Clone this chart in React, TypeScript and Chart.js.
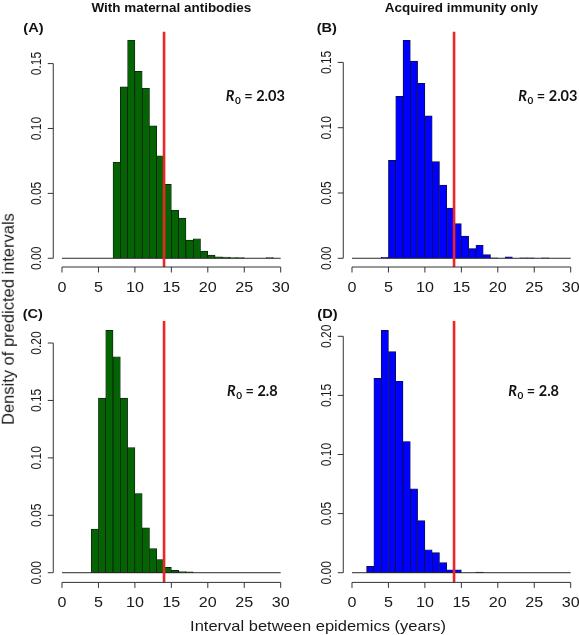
import React, { useEffect, useRef } from "react";
import { Chart, registerables } from "chart.js";

Chart.register(...registerables);

// ---------- data ----------
const binEdges = [0, 1, 2, 3, 4, 5, 6, 7, 8, 9, 10, 11, 12, 13, 14, 15, 16, 17, 18, 19, 20, 21, 22, 23, 24, 25, 26, 27, 28, 29, 30];

// (A) With maternal antibodies, R0 = 2.03
const maternalR203 = [0, 0, 0, 0, 0, 0, 0, 0.074, 0.132, 0.168, 0.144, 0.131, 0.102, 0.079, 0.057, 0.037, 0.031, 0.014, 0.015, 0.0055, 0.0025, 0.0012, 0.001, 0.0005, 0.0005, 0, 0, 0, 0.0005, 0];
// (B) Acquired immunity only, R0 = 2.03
const acquiredR203 = [0, 0, 0, 0, 0.0008, 0.075, 0.124, 0.167, 0.151, 0.134, 0.109, 0.074, 0.056, 0.0385, 0.0265, 0.017, 0.0075, 0.01, 0.0028, 0.0003, 0, 0.0012, 0, 0.0004, 0.0004, 0, 0.0004, 0, 0, 0];
// (C) With maternal antibodies, R0 = 2.8
const maternalR28 = [0, 0, 0, 0, 0.038, 0.152, 0.211, 0.188, 0.152, 0.109, 0.069, 0.039, 0.021, 0.0115, 0.0046, 0.002, 0.001, 0.0007, 0, 0, 0, 0, 0, 0, 0, 0, 0, 0, 0, 0];
// (D) Acquired immunity only, R0 = 2.8
const acquiredR28 = [0, 0, 0.0054, 0.1645, 0.205, 0.187, 0.162, 0.111, 0.071, 0.044, 0.0194, 0.017, 0.0085, 0.0025, 0.0025, 0, 0, 0.0005, 0, 0, 0, 0, 0, 0, 0, 0, 0, 0, 0, 0];

const xTickValues = [0, 5, 10, 15, 20, 25, 30];
const yTickValuesTop = [0, 0.05, 0.1, 0.15];
const yTickValuesBottom = [0, 0.05, 0.1, 0.15, 0.2];
const observedInterval = 14;

const columnTitles = ["With maternal antibodies", "Acquired immunity only"];
const panelLetters = ["(A)", "(B)", "(C)", "(D)"];
const r0Labels = ["2.03", "2.03", "2.8", "2.8"];
const xAxisTitle = "Interval between epidemics (years)";
const yAxisTitle = "Density of predicted intervals";

// ---------- styles / layout ----------
const GREEN = "#046404";
const BLUE = "#0000ff";
const RED = "rgb(236,38,38)";
const AXIS = "#333333";
const SANS = '"Liberation Sans", Arial, sans-serif';
const R0FONT = 'Lato, "Open Sans", sans-serif';

type Layout = {
  cl: number; ct: number; cw: number; ch: number;
  pl: number; pt: number; pr: number; pb: number;
  lx: number; ly: number; rx: number; ry: number;
};

const layouts: Layout[] = [
  { cl: 0, ct: 0, cw: 290, ch: 300, pl: 53.25, pt: 31.5, pr: 289.45, pb: 267, lx: 23.3, ly: 31.5, rx: 225.7, ry: 100.7 },
  { cl: 290, ct: 0, cw: 290, ch: 300, pl: 343.25, pt: 31.5, pr: 579.45, pb: 267, lx: 316.7, ly: 31.5, rx: 518.3, ry: 100.7 },
  { cl: 0, ct: 300, cw: 290, ch: 335, pl: 53.25, pt: 320.7, pr: 289.45, pb: 582.4, lx: 22.7, ly: 317.5, rx: 227, ry: 395.5 },
  { cl: 290, ct: 300, cw: 290, ch: 335, pl: 343.25, pt: 320.7, pr: 579.45, pb: 582.4, lx: 317.3, ly: 318, rx: 508.3, ry: 395.5 },
];

function stretchText(ctx: CanvasRenderingContext2D, text: string, x: number, y: number, sx: number, align: CanvasTextAlign) {
  ctx.save();
  ctx.translate(x, y);
  ctx.scale(sx, 1);
  ctx.textAlign = align;
  ctx.textBaseline = "alphabetic";
  ctx.fillText(text, 0, 0);
  ctx.restore();
}

type PanelProps = {
  values: number[];
  color: string;
  yTicks: number[];
  layout: Layout;
  letter: string;
  r0: string;
  title?: string;
};

function HistPanel({ values, color, yTicks, layout, letter, r0, title }: PanelProps) {
  const ref = useRef<HTMLCanvasElement>(null);

  useEffect(() => {
    const canvas = ref.current;
    if (!canvas) return;
    const L = layout;
    const centers = values.map((_, i) => (binEdges[i] + binEdges[i + 1]) / 2);
    const yMax = Math.max(...values);
    const yLo = -0.04 * yMax;
    const yHi = 1.04 * yMax;
    const xMin = binEdges[0];
    const xMax = binEdges[binEdges.length - 1];
    const xLo = xMin - 0.04 * (xMax - xMin);
    const xHi = xMax + 0.04 * (xMax - xMin);

    const decor = {
      id: "rDecor",
      afterDraw(chart: any) {
        const ctx: CanvasRenderingContext2D = chart.ctx;
        const xs = chart.scales.x;
        const ys = chart.scales.y;
        const area = chart.chartArea;
        ctx.save();
        ctx.strokeStyle = AXIS;
        ctx.lineWidth = 1;
        ctx.fillStyle = "#1a1a1a";

        // y axis (R style, spans ticks only)
        const ax = area.left;
        ctx.beginPath();
        ctx.moveTo(ax, ys.getPixelForValue(yTicks[0]));
        ctx.lineTo(ax, ys.getPixelForValue(yTicks[yTicks.length - 1]));
        yTicks.forEach((t) => {
          const py = ys.getPixelForValue(t);
          ctx.moveTo(ax, py);
          ctx.lineTo(ax - 5.5, py);
        });
        // x axis
        const ay = area.bottom;
        ctx.moveTo(xs.getPixelForValue(xTickValues[0]), ay);
        ctx.lineTo(xs.getPixelForValue(xTickValues[xTickValues.length - 1]), ay);
        xTickValues.forEach((t) => {
          const px = xs.getPixelForValue(t);
          ctx.moveTo(px, ay);
          ctx.lineTo(px, ay + 5.5);
        });
        ctx.stroke();

        // y tick labels, rotated
        ctx.font = `12px ${SANS}`;
        yTicks.forEach((t) => {
          const py = ys.getPixelForValue(t);
          ctx.save();
          ctx.translate(ax - 12.5, py);
          ctx.rotate(-Math.PI / 2);
          ctx.scale(1, 1.15);
          ctx.textAlign = "center";
          ctx.textBaseline = "alphabetic";
          ctx.fillText(t.toFixed(2), 0, 0);
          ctx.restore();
        });

        // x tick labels
        ctx.font = `14px ${SANS}`;
        xTickValues.forEach((t) => {
          stretchText(ctx, String(t), xs.getPixelForValue(t), ay + 24.6, 1.15, "center");
        });

        // panel letter
        ctx.fillStyle = "#111";
        ctx.font = `bold 13.5px ${SANS}`;
        stretchText(ctx, letter, L.lx - L.cl, L.ly - L.ct, 1.08, "left");

        // column title
        if (title) {
          ctx.font = `bold 12px ${SANS}`;
          stretchText(ctx, title, (area.left + area.right) / 2, 11.5 - L.ct, 1.12, "center");
        }

        // R0 annotation
        let x = L.rx - L.cl;
        const y = L.ry - L.ct;
        ctx.textAlign = "left";
        ctx.textBaseline = "alphabetic";
        ctx.font = `italic bold 14.5px ${R0FONT}`;
        ctx.fillText("R", x, y);
        x += ctx.measureText("R").width + 0.5;
        ctx.font = `bold 10px ${R0FONT}`;
        ctx.fillText("0", x, y + 3);
        x += ctx.measureText("0").width;
        ctx.font = `bold 14.5px ${R0FONT}`;
        ctx.fillText(" = " + r0, x, y);
        ctx.restore();
      },
    };

    const chart = new Chart(canvas, {
      type: "bar",
      data: {
        datasets: [
          {
            type: "line",
            data: [
              { x: observedInterval, y: yLo },
              { x: observedInterval, y: yHi },
            ],
            borderColor: RED,
            borderWidth: 2.6,
            pointRadius: 0,
            order: 0,
          } as any,
          {
            type: "line",
            data: [
              { x: binEdges[0], y: 0 },
              { x: binEdges[binEdges.length - 1], y: 0 },
            ],
            borderColor: "#2a2a2a",
            borderWidth: 1,
            pointRadius: 0,
            order: 1,
          } as any,
          {
            type: "bar",
            data: centers.map((c, i) => ({ x: c, y: values[i] })),
            backgroundColor: color,
            borderColor: "#111111",
            borderWidth: 0.7,
            borderSkipped: false,
            barPercentage: 1,
            categoryPercentage: 1,
            order: 2,
          } as any,
        ],
      },
      options: {
        animation: false,
        responsive: false,
        devicePixelRatio: 1,
        events: [],
        layout: {
          autoPadding: false,
          padding: {
            left: L.pl - L.cl,
            top: L.pt - L.ct,
            right: L.cl + L.cw - L.pr,
            bottom: L.ct + L.ch - L.pb,
          },
        },
        plugins: { legend: { display: false }, tooltip: { enabled: false } },
        scales: {
          x: { type: "linear", min: xLo, max: xHi, display: false, offset: false, grid: { offset: false }, ticks: { stepSize: 5, includeBounds: false } },
          y: { type: "linear", min: yLo, max: yHi, display: false },
        },
      } as any,
      plugins: [decor],
    });
    return () => chart.destroy();
  }, []);

  return (
    <canvas
      ref={ref}
      width={layout.cw}
      height={layout.ch}
      style={{ position: "absolute", left: layout.cl, top: layout.ct, width: layout.cw, height: layout.ch }}
    />
  );
}

export default function App() {
  return (
    <div
      style={{
        position: "absolute",
        left: 0,
        top: 0,
        width: 579,
        height: 635,
        overflow: "hidden",
        background: "#ffffff",
        fontFamily: SANS,
      }}
    >
      <HistPanel values={maternalR203} color={GREEN} yTicks={yTickValuesTop} layout={layouts[0]} letter={panelLetters[0]} r0={r0Labels[0]} title={columnTitles[0]} />
      <HistPanel values={acquiredR203} color={BLUE} yTicks={yTickValuesTop} layout={layouts[1]} letter={panelLetters[1]} r0={r0Labels[1]} title={columnTitles[1]} />
      <HistPanel values={maternalR28} color={GREEN} yTicks={yTickValuesBottom} layout={layouts[2]} letter={panelLetters[2]} r0={r0Labels[2]} />
      <HistPanel values={acquiredR28} color={BLUE} yTicks={yTickValuesBottom} layout={layouts[3]} letter={panelLetters[3]} r0={r0Labels[3]} />
      <div
        style={{
          position: "absolute",
          left: 317.5,
          top: 617.5,
          fontSize: 15,
          lineHeight: "15px",
          whiteSpace: "nowrap",
          color: "#1a1a1a",
          transform: "translateX(-50%) scaleX(1.1)",
        }}
      >
        {xAxisTitle}
      </div>
      <div
        style={{
          position: "absolute",
          left: 7.6,
          top: 319,
          fontSize: 16.5,
          lineHeight: "16.5px",
          whiteSpace: "nowrap",
          color: "#1a1a1a",
          transform: "translate(-50%, -50%) rotate(-90deg)",
        }}
      >
        {yAxisTitle}
      </div>
    </div>
  );
}
